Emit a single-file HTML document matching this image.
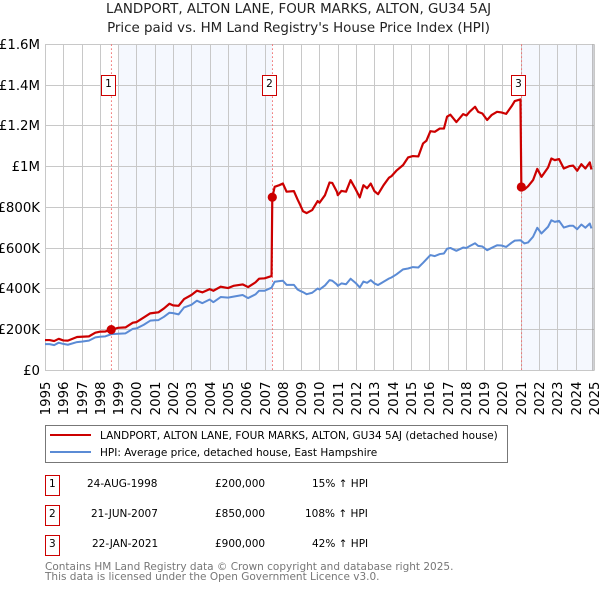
<!DOCTYPE html>
<html lang="en">
<head>
<meta charset="utf-8">
<title>LANDPORT, ALTON LANE, FOUR MARKS, ALTON, GU34 5AJ</title>
<style>
html,body{margin:0;padding:0;background:#fff;}
body{width:600px;height:590px;overflow:hidden;position:relative;}
svg{position:absolute;left:0;top:0;font-family:"DejaVu Sans",sans-serif;}
text{fill:#000;}
</style>
</head>
<body>
<svg id="chart" width="600" height="590" viewBox="0 0 600 590" xmlns="http://www.w3.org/2000/svg">
  <g id="title" text-anchor="middle" font-size="13.4" fill="#222">
    <text x="298.5" y="13" style="fill:#222">LANDPORT, ALTON LANE, FOUR MARKS, ALTON, GU34 5AJ</text>
    <text x="298.5" y="32" style="fill:#222">Price paid vs. HM Land Registry's House Price Index (HPI)</text>
  </g>
  <g id="bands"></g>
  <g id="grid"></g>
  <g id="saleLines"></g>
  <g id="series"></g>
  <g id="markers"></g>
  <g id="yTicks"></g>
  <g id="xTicks"></g>

  <g>
    <rect x="45.5" y="425.5" width="462" height="37" fill="#fff" stroke="#777"/>
    <line x1="50" x2="91" y1="435" y2="435" stroke="#cc0000" stroke-width="2"/>
    <text x="100" y="439" font-size="10.5">LANDPORT, ALTON LANE, FOUR MARKS, ALTON, GU34 5AJ (detached house)</text>
    <line x1="50" x2="91" y1="452" y2="452" stroke="#5b8bd5" stroke-width="2"/>
    <text x="100" y="456" font-size="10.5">HPI: Average price, detached house, East Hampshire</text>
  </g>

  <g font-size="10.5">
    <g>
      <rect x="45.5" y="475.5" width="14" height="20" fill="#fff" stroke="#cc0000"/>
      <text x="52.3" y="487" text-anchor="middle">1</text>
      <text x="87" y="487">24-AUG-1998</text>
      <text x="215" y="487">£200,000</text>
      <text x="312" y="487">15% ↑ HPI</text>
    </g>
    <g>
      <rect x="45.5" y="505.5" width="14" height="20" fill="#fff" stroke="#cc0000"/>
      <text x="52.3" y="517" text-anchor="middle">2</text>
      <text x="91" y="517">21-JUN-2007</text>
      <text x="215" y="517">£850,000</text>
      <text x="305" y="517">108% ↑ HPI</text>
    </g>
    <g>
      <rect x="45.5" y="535.5" width="14" height="20" fill="#fff" stroke="#cc0000"/>
      <text x="52.3" y="547" text-anchor="middle">3</text>
      <text x="92" y="547">22-JAN-2021</text>
      <text x="215" y="547">£900,000</text>
      <text x="312" y="547">42% ↑ HPI</text>
    </g>
  </g>

  <g font-size="10.5">
    <text x="45" y="570" style="fill:#777">Contains HM Land Registry data © Crown copyright and database right 2025.</text>
    <text x="45" y="580" style="fill:#777">This data is licensed under the Open Government Licence v3.0.</text>
  </g>
</svg>

<script>
const yearLabels = [1995,1996,1997,1998,1999,2000,2001,2002,2003,2004,2005,2006,2007,2008,2009,2010,2011,2012,2013,2014,2015,2016,2017,2018,2019,2020,2021,2022,2023,2024,2025];
const priceTicks = [0,200,400,600,800,1000,1200,1400,1600];
const priceTickLabels = ['£0','£200K','£400K','£600K','£800K','£1M','£1.2M','£1.4M','£1.6M'];

const saleDates = [1998.62,2007.42,2021.03];
const salePrices = [200,850,900];
const saleNumbers = ['1','2','3'];

const shadedFrom = [1999,2007.42,2021.03];

const propertyDates = [1995,1995.25,1995.5,1995.75,1996,1996.25,1996.75,1997,1997.4,1997.75,1998,1998.3,1998.62,1999,1999.4,1999.8,2000,2000.4,2000.75,2001,2001.2,2001.5,2001.8,2002,2002.3,2002.6,2003,2003.3,2003.6,2004,2004.2,2004.6,2005,2005.3,2005.8,2006.1,2006.5,2006.7,2007,2007.38,2007.42,2007.55,2007.8,2008,2008.2,2008.6,2008.8,2008.95,2009.1,2009.3,2009.6,2009.9,2010,2010.3,2010.55,2010.7,2010.95,2011,2011.2,2011.45,2011.7,2012,2012.2,2012.4,2012.6,2012.8,2013,2013.2,2013.5,2013.8,2013.93,2014.2,2014.57,2014.84,2015.1,2015.4,2015.66,2015.84,2016.06,2016.3,2016.57,2016.8,2016.97,2017.15,2017.48,2017.85,2018.03,2018.2,2018.5,2018.67,2018.9,2019.16,2019.4,2019.7,2019.94,2020.2,2020.5,2020.67,2020.98,2021.03,2021.2,2021.4,2021.67,2021.9,2022.13,2022.49,2022.67,2022.86,2023.09,2023.35,2023.67,2023.86,2024.08,2024.31,2024.53,2024.77,2024.86];
const propertyValues = [149,149,144,155,147,146,164,165,167,185,190,191,200,209,211,234,237,260,280,283,285,304,327,319,317,350,370,391,383,399,391,411,404,415,422,409,432,450,452,463,850,901,909,917,877,880,839,811,781,772,787,831,823,860,922,920,877,860,881,877,934,885,849,909,894,917,880,865,909,946,953,980,1008,1045,1052,1050,1114,1127,1174,1171,1187,1187,1245,1255,1219,1258,1251,1269,1294,1269,1261,1229,1253,1269,1266,1259,1297,1322,1330,900,888,904,934,989,950,996,1040,1032,1037,991,1003,1005,980,1012,991,1021,986];

const hpiDates = [1995,1995.25,1995.5,1995.75,1996,1996.25,1996.75,1997,1997.4,1997.75,1998,1998.3,1998.62,1999,1999.4,1999.8,2000,2000.4,2000.75,2001,2001.2,2001.5,2001.8,2002,2002.3,2002.6,2003,2003.3,2003.6,2004,2004.2,2004.6,2005,2005.3,2005.8,2006.1,2006.5,2006.7,2007,2007.38,2007.55,2007.8,2008,2008.2,2008.6,2008.8,2008.95,2009.1,2009.3,2009.6,2009.9,2010,2010.3,2010.55,2010.7,2010.95,2011,2011.2,2011.45,2011.7,2012,2012.2,2012.4,2012.6,2012.8,2013,2013.2,2013.5,2013.8,2013.93,2014.2,2014.57,2014.84,2015.1,2015.4,2015.66,2016.06,2016.3,2016.57,2016.8,2016.97,2017.15,2017.48,2017.85,2018.03,2018.2,2018.5,2018.67,2018.9,2019.16,2019.4,2019.7,2019.94,2020.2,2020.5,2020.67,2020.98,2021.2,2021.4,2021.67,2021.9,2022.13,2022.49,2022.67,2022.86,2023.09,2023.35,2023.67,2023.86,2024.08,2024.31,2024.53,2024.77,2024.86];
const hpiValues = [129,129,124,136,130,126,139,141,146,162,165,167,178,180,182,204,206,224,244,246,247,263,283,281,275,309,322,342,330,348,335,360,357,362,370,355,373,391,391,406,435,438,440,420,420,397,390,384,374,381,402,397,417,443,440,422,415,427,423,450,427,407,436,430,443,427,419,435,451,456,471,496,500,507,505,528,566,561,571,574,597,601,587,603,601,610,624,611,608,590,601,614,613,606,627,637,639,623,628,656,700,672,705,737,729,734,701,710,710,693,716,700,721,697];

const SVGNS = 'http://www.w3.org/2000/svg';
const plotLeft = 45, plotRight = 594, plotTop = 44.4, plotBottom = 370.4;
const xScale = t => plotLeft + (t - 1995) * 18.3;
const yScale = v => plotBottom - v * (plotBottom - plotTop) / 1600;
const snap = p => Math.round(p - 0.01) + 0.5;

function make(tag, attrs, parent) {
  const el = document.createElementNS(SVGNS, tag);
  for (const k in attrs) el.setAttribute(k, attrs[k]);
  document.getElementById(parent).appendChild(el);
  return el;
}

// shaded bands
{
  const b1 = make('rect', {x: xScale(shadedFrom[0]) + 0.5, y: plotTop, width: xScale(shadedFrom[1]) - xScale(shadedFrom[0]) - 0.5, height: plotBottom - plotTop, fill: '#f5f8fe'}, 'bands');
  
  
  const b2 = make('rect', {x: xScale(shadedFrom[2]) + 0.5, y: plotTop, width: plotRight - xScale(shadedFrom[2]) - 0.5, height: plotBottom - plotTop, fill: '#f5f8fe'}, 'bands');
  
  
}

// vertical grid + x labels
yearLabels.forEach(year => {
  const px = snap(xScale(year));
  const g = make('line', {x1: px, x2: px, y1: plotTop, y2: plotBottom, stroke: '#c8c8c8', 'stroke-width': 1}, 'grid');
  
  
  const t = make('text', {x: 0, y: 0, 'font-size': 13.3, 'text-anchor': 'end', transform: 'translate(' + (px + 4.6) + ',381.5) rotate(-90)'}, 'xTicks');
  
  
  t.textContent = String(year);
});

// horizontal grid + y labels
priceTicks.forEach((v, i) => {
  const py = Math.floor(yScale(v)) + 0.5;
  const g = make('line', {x1: plotLeft, x2: plotRight + 0.5, y1: py, y2: py, stroke: '#c8c8c8', 'stroke-width': 1}, 'grid');
  
  
  const t = make('text', {x: 40, y: py + 4.5, 'font-size': 13.3, 'text-anchor': 'end'}, 'yTicks');
  
  
  t.textContent = priceTickLabels[i];
});

// end-of-data edge line
{
  const e = make('line', {x1: 592.9, x2: 592.9, y1: plotTop, y2: plotBottom, stroke: '#999', 'stroke-width': 1}, 'grid');
  
  
}

// sale lines
saleDates.forEach(d => {
  const l = make('line', {x1: xScale(d) + 0.2, x2: xScale(d) + 0.2, y1: plotTop, y2: plotBottom, stroke: '#f06a6a', 'stroke-width': 1, 'stroke-dasharray': '1.5,2.5'}, 'saleLines');
  
  
});

// series
function pathFor(dates, values) {
  return dates.map((d, i) => (i ? 'L' : 'M') + xScale(d).toFixed(2) + ' ' + yScale(values[i]).toFixed(2)).join('');
}
{
  const hpi = make('path', {d: pathFor(hpiDates, hpiValues), fill: 'none', stroke: '#5b8bd5', 'stroke-width': 2, 'stroke-linejoin': 'round'}, 'series');
  
  
  const prop = make('path', {d: pathFor(propertyDates, propertyValues), fill: 'none', stroke: '#cc0000', 'stroke-width': 2.2, 'stroke-linejoin': 'round'}, 'series');
  
  
}

// sale markers
saleDates.forEach((d, i) => {
  const c = make('circle', {cx: xScale(d), cy: yScale(salePrices[i]), r: 4.6, fill: '#cc0000'}, 'markers');
  
  
  const bx = Math.floor(xScale(d)) - 9.5;
  const r = make('rect', {x: bx, y: 75.5, width: 14, height: 20, fill: '#fff', stroke: '#cc0000', 'stroke-width': 1}, 'markers');
  
  
  const t = make('text', {x: bx + 7, y: 87, 'font-size': 10.5, 'text-anchor': 'middle'}, 'markers');
  
  
  t.textContent = saleNumbers[i];
});
</script>
</body>
</html>
